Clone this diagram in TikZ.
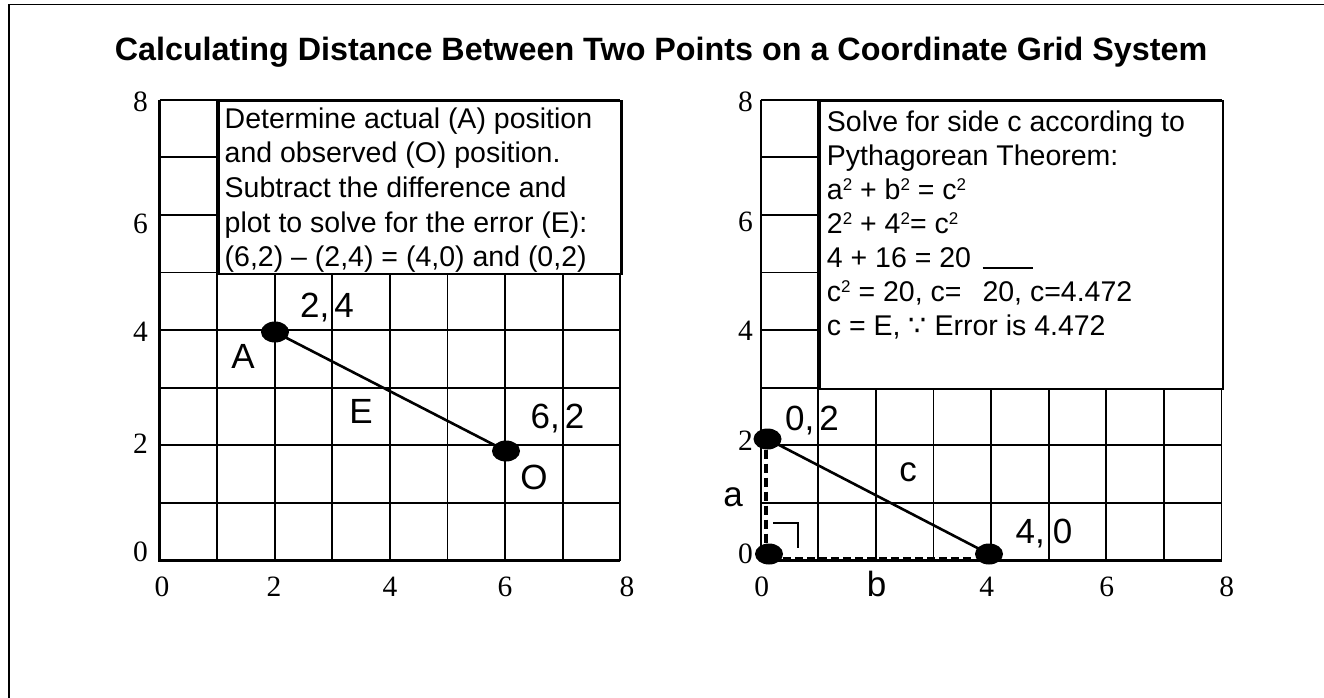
\documentclass[tikz,border=0pt]{standalone}
\usepackage{fontspec}
\setmainfont{Liberation Serif}
\newfontfamily\arial{Liberation Sans}
\newfontfamily\djv{DejaVu Sans}
\newcommand\mysq{\raisebox{9.5pt}{\fontsize{17}{17}\selectfont 2}}
\usetikzlibrary{shapes.geometric}
\begin{document}
\begin{tikzpicture}[x=1pt,y=-1pt,
  gridline/.style={line width=1.8pt},
  boxframe/.style={draw, fill=white, line width=2.4pt, inner sep=0pt, anchor=north west},
  boxtext/.style={align=left, anchor=north west, inner sep=0pt},
  axisnum/.style={font=\fontsize{29.5}{32}\selectfont, inner sep=0pt},
  ptlabel/.style={font=\arial\fontsize{35}{40}\selectfont, inner sep=0pt, anchor=base},
  dot/.style={ellipse, fill=black, minimum width=28pt, minimum height=21pt, inner sep=0pt},
  seg/.style={line width=2.6pt},
  frameline/.style={line width=1.6pt},
]
\useasboundingbox (0,0) rectangle (1324,698);
% outer frame
\coordinate (fr1) at (1324,4.7);
\coordinate (fr2) at (8.7,4.7);
\coordinate (fr3) at (8.7,698);
\draw[frameline] (fr1) -- (fr2) -- (fr3);

% title
\node[font=\arial\bfseries\fontsize{32.3}{38}\selectfont, anchor=base, inner sep=0pt] (title) at (661,61)
  {Calculating Distance Between Two Points on a Coordinate Grid System};

% ---------- left grid ----------
\begin{scope}[shift={(159.5,560.5)}, x=57.6pt, y=57.6pt]
  \foreach \i in {0,...,8} {
    \draw[gridline] (\i,0) -- (\i,8);
    \draw[gridline] (0,\i) -- (8,\i);
  }
  \draw[line width=2.4pt] (0,8) -- (0,0) -- (8,0);
  \node[boxframe, minimum width=403.2pt, minimum height=172.8pt] (lbox) at (1,8) {};
\end{scope}
\node[boxtext, font=\arial\fontsize{28.5}{34.6}\selectfont] (ltext) at (224.5,107.5)
  {Determine actual (A) position\\
   and observed (O) position.\\
   Subtract the difference and\\
   plot to solve for the error (E):\\
   (6,2) \textendash{} (2,4) = (4,0) and (0,2)};

% left axis numbers
\node[axisnum, anchor=base east] (ly8) at (148,111.7) {8};
\node[axisnum, anchor=base east] (ly6) at (148,233) {6};
\node[axisnum, anchor=base east] (ly4) at (148,341.7) {4};
\node[axisnum, anchor=base east] (ly2) at (148,453.3) {2};
\node[axisnum, anchor=base east] (ly0) at (148,561.7) {0};
\node[axisnum, anchor=base] (lx0) at (162,596.7) {0};
\node[axisnum, anchor=base] (lx2) at (274,596.7) {2};
\node[axisnum, anchor=base] (lx4) at (390,596.7) {4};
\node[axisnum, anchor=base] (lx6) at (505,596.7) {6};
\node[axisnum, anchor=base] (lx8) at (627,596.7) {8};

% left points
\node[dot] (A) at (275,332) {};
\node[dot] (O) at (506,451) {};
\draw[seg] (A.center) -- (O.center);
\node[ptlabel] (lA24) at (327,317) {2,\kern5pt4};
\node[ptlabel] (lA) at (243,368) {A};
\node[ptlabel] (lE) at (361,423) {E};
\node[ptlabel] (lO62) at (557.5,428) {6,\kern5pt2};
\node[ptlabel] (lO) at (534,489) {O};

% ---------- right grid ----------
\begin{scope}[shift={(760.7,560.5)}, x=57.6pt, y=57.6pt]
  \foreach \i in {0,...,8} {
    \draw[gridline] (\i,0) -- (\i,8);
    \draw[gridline] (0,\i) -- (8,\i);
  }
  \draw[line width=2.4pt] (0,8) -- (0,0) -- (8,0);
  \node[boxframe, minimum width=403.2pt, minimum height=288pt] (rbox) at (1,8) {};
\end{scope}
\node[boxtext, font=\arial\fontsize{28.5}{34}\selectfont] (rtext) at (826.7,110.9)
  {Solve for side c according to\\
   Pythagorean Theorem:\\
   a\mysq{} + b\mysq{} = c\mysq\\
   2\mysq{} + 4\mysq= c\mysq\\
   4 + 16 = 20\\
   c\mysq{} = 20, c=\hspace{21pt}\rlap{\smash{\raisebox{33pt}{\rule{50pt}{1.4pt}}}}20, c=4.472\\
   c = E, {\djv ∵} Error is 4.472};

% right axis numbers
\node[axisnum, anchor=base east] (ry8) at (753,111.7) {8};
\node[axisnum, anchor=base east] (ry6) at (753,231.7) {6};
\node[axisnum, anchor=base east] (ry4) at (753,340) {4};
\node[axisnum, anchor=base east] (ry2) at (753,450) {2};
\node[axisnum, anchor=base east] (ry0) at (753,563) {0};
\node[axisnum, anchor=base] (rx0) at (761.7,596.7) {0};
\node[ptlabel] (rxb) at (876.7,596.7) {b};
\node[axisnum, anchor=base] (rx4) at (986.7,596.7) {4};
\node[axisnum, anchor=base] (rx6) at (1106.7,596.7) {6};
\node[axisnum, anchor=base] (rx8) at (1226.7,596.7) {8};

% right points
\node[dot] (P02) at (767.5,439) {};
\node[dot] (P00) at (769,554) {};
\node[dot] (P40) at (989,554) {};
\draw[seg] (P02.center) -- (P40.center);
\draw[line width=3.5pt, dash pattern=on 9pt off 5pt] ([xshift=-1.5pt]P02.south) -- ([xshift=-3pt]P00.north);
\draw[line width=2pt, dash pattern=on 8pt off 4pt] ([yshift=-4pt]P00.east) -- ([yshift=-4pt]P40.west);
\coordinate (ra1) at (773,522.7);
\coordinate (ra2) at (798,522.7);
\coordinate (ra3) at (798,548);
\draw[line width=1.8pt] (ra1) -- (ra2) -- (ra3);
\node[ptlabel] (l02) at (812,430) {0,\kern5pt2};
\node[ptlabel] (lc) at (908,481.7) {c};
\node[ptlabel] (la) at (733,506.7) {a};
\node[ptlabel] (l40) at (1044,543.3) {4,\kern8pt0};
\end{tikzpicture}
\end{document}
